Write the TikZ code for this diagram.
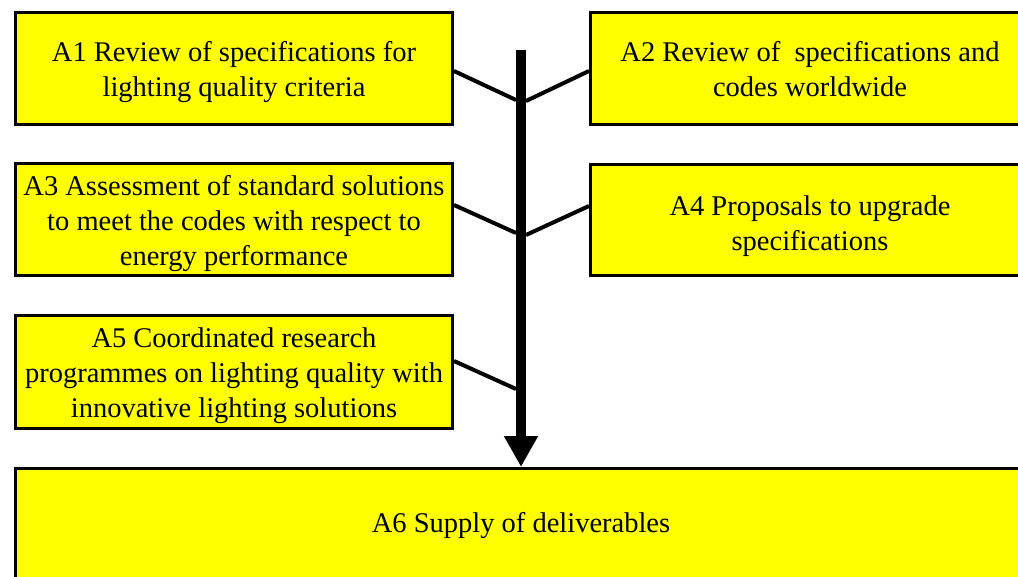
\documentclass[tikz,border=0pt]{standalone}
\usepackage{fontspec}
\setmainfont{Liberation Serif}
\usetikzlibrary{arrows.meta}
\definecolor{boxyellow}{RGB}{255,255,0}
\newcommand\mytopstrut{\rule{0pt}{27.5pt}}
\newcommand\mybotstrut{\rule[-6.2pt]{0pt}{0pt}}
\tikzset{
  box/.style={draw=black, line width=3pt, fill=boxyellow, align=center, inner sep=0pt,
    minimum width=437pt, minimum height=112pt, text=black,
    font={\fontsize{28.5}{35}\selectfont}},
  link/.style={line width=4pt, draw=black},
  mainarrow/.style={line width=10pt, draw=black, -{Triangle[length=31pt,width=32pt]}}
}
\begin{document}
\begin{tikzpicture}[x=1pt,y=-1pt]
\useasboundingbox (0,0) rectangle (1018,577);
\clip (0,0) rectangle (1018,577);
\node[box] (a1) at (234,68.5) {\mytopstrut A1 Review of specifications for\\lighting quality criteria\mybotstrut};
\node[box, minimum width=439pt] (a2) at (810,68.5) {\mytopstrut A2 Review of\ \ specifications and\\codes worldwide\mybotstrut};
\node[box] (a3) at (234,219.5) {\mytopstrut A3 Assessment of standard solutions\\to meet the codes with respect to\\energy performance\mybotstrut};
\node[box, minimum width=439pt, minimum height=111pt] (a4) at (810,220) {\rule{0pt}{33pt}A4 Proposals to upgrade\\specifications\mybotstrut};
\node[box, minimum height=113pt] (a5) at (234,372) {\mytopstrut A5 Coordinated research\\programmes on lighting quality with\\innovative lighting solutions\mybotstrut};
\node[box, minimum width=1011pt, minimum height=110pt] (a6) at (521,523.5) {\rule{0pt}{23.6pt}A6 Supply of deliverables};
\coordinate (top) at (521,50);
\coordinate (j1) at (516,100);
\coordinate (j2) at (526,101);
\coordinate (j3) at (516,233);
\coordinate (j4) at (526,235);
\coordinate (j5) at (516,389);
\draw[link] ([yshift=-2.5pt]a1.east) -- (j1);
\draw[link] ([yshift=-2.5pt]a2.west) -- (j2);
\draw[link] ([yshift=14.5pt]a3.east) -- (j3);
\draw[link] ([yshift=14pt]a4.west) -- (j4);
\draw[link] ([yshift=11pt]a5.east) -- (j5);
\draw[mainarrow] (top) -- (a6.north);
\end{tikzpicture}
\end{document}
